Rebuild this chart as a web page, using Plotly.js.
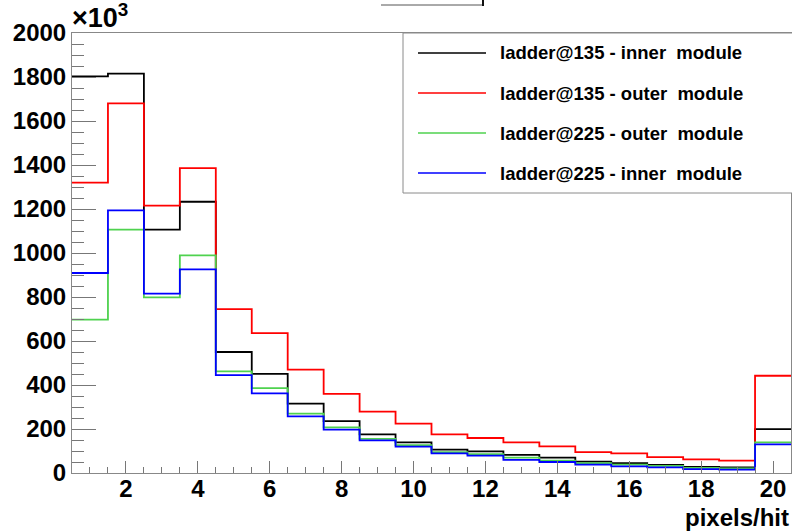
<!DOCTYPE html>
<html>
<head>
<meta charset="utf-8">
<script src="https://cdn.plot.ly/plotly-3.0.1.min.js"></script>
<style>html,body{margin:0;padding:0;background:#fff;}#chart{width:792px;height:531px;}</style>
</head>
<body>
<div id="chart"></div>
<script>
// ---- data (values in units of 10^3 hits) ----
const bins = [1,2,3,4,5,6,7,8,9,10,11,12,13,14,15,16,17,18,19,20];
const seriesNames = [
  "ladder@135 - inner  module",
  "ladder@135 - outer  module",
  "ladder@225 - outer  module",
  "ladder@225 - inner  module"
];
const ladder135Inner = [1803,1815,1106,1233,550,451,315,236,176,139,106,98,82,70,52,45,37,28,25,199];
const ladder135Outer = [1320,1680,1215,1386,745,636,470,360,279,224,176,159,139,121,95,89,72,62,56,442];
const ladder225Outer = [697,1106,798,989,462,386,270,207,155,127,95,86,70,56,45,38,32,23,21,139];
const ladder225Inner = [909,1194,815,926,445,362,257,197,148,120,89,79,60,50,38,30,26,18,15,130];
const xTickVals = [2,4,6,8,10,12,14,16,18,20];
const yTickVals = [0,200,400,600,800,1000,1200,1400,1600,1800,2000];
const xTitle = "pixels/hit";

// ---- styling ----
const colors = ["#000000", "#ff0000", "#4fd24f", "#0000ff"];
const allSeries = [ladder135Inner, ladder135Outer, ladder225Outer, ladder225Inner];
const FONT = "Liberation Sans, Arial, Helvetica, sans-serif";

const edges = bins.map(b => b - 0.5).concat([bins[bins.length-1] + 0.5]);
const traces = allSeries.map((vals, i) => ({
  x: edges,
  y: vals.concat([vals[vals.length-1]]),
  type: "scatter",
  mode: "lines",
  name: seriesNames[i],
  line: {shape: "hv", color: colors[i], width: 1.8},
  hoverinfo: "skip",
  showlegend: false
}));

// plot-area pixel helpers
const L = 72, R = 791, T = 33, B = 473;
const px = p => (p - L) / (R - L);
const py = p => (B - p) / (B - T);

const shapes = [];
const annotations = [];

// legend box
shapes.push({type: "rect", xref: "paper", yref: "paper",
  x0: px(403), x1: px(796), y0: py(193), y1: py(33),
  fillcolor: "#ffffff", line: {color: "#8a8a8a", width: 1}, layer: "above"});
const rowY = [53, 93, 133, 173];
seriesNames.forEach((n, i) => {
  shapes.push({type: "line", xref: "paper", yref: "paper",
    x0: px(418), x1: px(486), y0: py(rowY[i]), y1: py(rowY[i]),
    line: {color: colors[i], width: 1.6}, layer: "above"});
  annotations.push({xref: "paper", yref: "paper", x: px(498), y: py(rowY[i]),
    xanchor: "left", yanchor: "middle", showarrow: false,
    text: n.replace(/  /g, " \u00a0"),
    font: {family: FONT, size: 18.5, color: "#000", weight: "bold"}});
});

// remnant of title box at top
shapes.push({type: "line", xref: "paper", yref: "paper",
  x0: px(381), x1: px(483), y0: py(5), y1: py(5),
  line: {color: "#555", width: 1}, layer: "above"});
shapes.push({type: "line", xref: "paper", yref: "paper",
  x0: px(483), x1: px(483), y0: py(0), y1: py(6),
  line: {color: "#111", width: 2}, layer: "above"});

// exponent label
annotations.push({xref: "paper", yref: "paper", x: px(70), y: py(35),
  xanchor: "left", yanchor: "bottom", showarrow: false,
  text: "×10<sup>3</sup>",
  font: {family: FONT, size: 27, color: "#000", weight: "bold"}});

// x axis title
annotations.push({xref: "paper", yref: "paper", x: px(791), y: py(517),
  xanchor: "right", yanchor: "middle", showarrow: false,
  text: xTitle,
  font: {family: FONT, size: 24, color: "#000", weight: "bold"}});

const layout = {
  width: 792, height: 531,
  margin: {l: L, r: 792 - R, t: T, b: 531 - B, pad: 0},
  paper_bgcolor: "#ffffff", plot_bgcolor: "#ffffff",
  showlegend: false,
  xaxis: {
    range: [0.5, 20.5], autorange: false,
    tickmode: "array", tickvals: xTickVals, ticktext: xTickVals.map(String),
    ticks: "inside", ticklen: 12, tickwidth: 1, tickcolor: "#777",
    minor: {dtick: 0.5, tick0: 0, ticks: "inside", ticklen: 6, tickcolor: "#777", showgrid: false},
    showgrid: false, zeroline: false,
    showline: true, mirror: true, linecolor: "#888", linewidth: 1,
    ticklabelstandoff: -6,
    tickfont: {family: FONT, size: 24, color: "#000", weight: "bold"}
  },
  yaxis: {
    range: [0, 2000], autorange: false,
    tickmode: "array", tickvals: yTickVals, ticktext: yTickVals.map(String),
    ticks: "inside", ticklen: 24, tickwidth: 1, tickcolor: "#777",
    minor: {dtick: 50, tick0: 0, ticks: "inside", ticklen: 12, tickcolor: "#777", showgrid: false},
    showgrid: false, zeroline: false,
    showline: true, mirror: true, linecolor: "#888", linewidth: 1,
    tickfont: {family: FONT, size: 24, color: "#000", weight: "bold"}
  },
  shapes: shapes,
  annotations: annotations
};

Plotly.newPlot("chart", traces, layout, {staticPlot: true, displayModeBar: false});
</script>
</body>
</html>
